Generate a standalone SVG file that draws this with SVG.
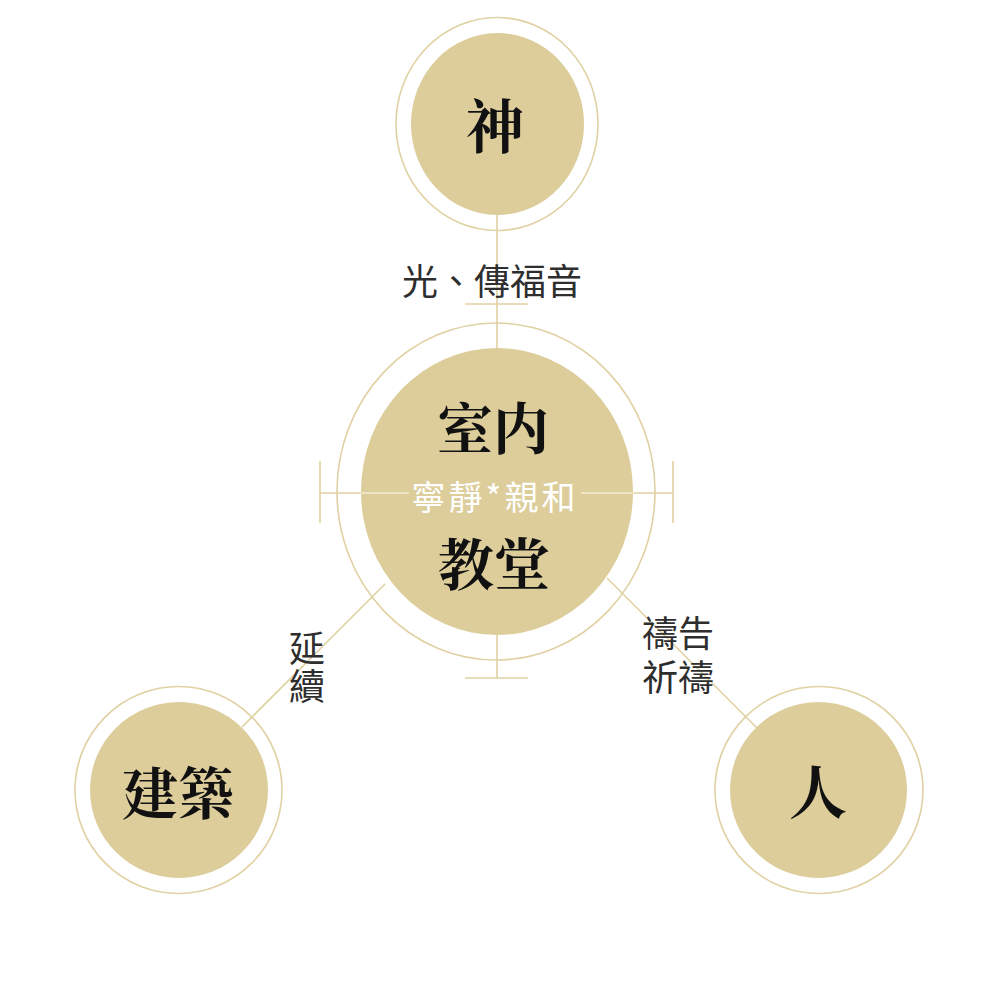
<svg xmlns="http://www.w3.org/2000/svg" width="989" height="989" viewBox="0 0 989 989">
<style>
.fill{fill:#dccd9b}
.ring{fill:none;stroke:#e0d1a3;stroke-width:1.6}
.ln{stroke:#e0d1a3;stroke-width:1.6;fill:none}
.lnw{stroke:#f3ecd5;stroke-width:1.6;fill:none}
.big{font-family:"Noto Serif CJK TC","Noto Sans CJK TC",serif;font-weight:700;fill:#111;text-anchor:middle;dominant-baseline:central}
.lbl{font-family:"Noto Sans CJK TC","Noto Sans CJK SC",sans-serif;font-size:36px;fill:#2e2e2e;dominant-baseline:central}
</style>
<rect width="989" height="989" fill="#fff"/>
<g id="connectors">
<line class="ln" x1="497" y1="215" x2="497" y2="348"/>
<line class="ln" x1="465" y1="304" x2="528" y2="304"/>
<line class="ln" x1="497" y1="635" x2="497" y2="678"/>
<line class="ln" x1="465" y1="678" x2="528" y2="678"/>
<line class="ln" x1="320" y1="493" x2="361" y2="493"/>
<line class="ln" x1="633" y1="493" x2="673" y2="493"/>
<line class="ln" x1="320" y1="461" x2="320" y2="523"/>
<line class="ln" x1="673" y1="461" x2="673" y2="523"/>
<line class="ln" x1="385" y1="584" x2="242" y2="727"/>
<line class="ln" x1="607" y1="578" x2="758" y2="729"/>
</g>
<g id="node-god">
<ellipse class="ring" cx="497" cy="124" rx="101" ry="106.5"/>
<ellipse class="fill" cx="497.5" cy="124" rx="86.5" ry="91"/>
<text class="big" x="495" y="123" font-size="58">神</text>
</g>
<g id="node-center">
<ellipse class="ring" cx="496" cy="491.5" rx="159" ry="168.5"/>
<ellipse class="fill" cx="497" cy="491.5" rx="136" ry="143.5"/>
<line class="lnw" x1="361" y1="493" x2="409" y2="493"/>
<line class="lnw" x1="581" y1="493" x2="633" y2="493"/>
<text class="big" x="493" y="425" font-size="56">室内</text>
<text class="big" x="494" y="561" font-size="56">教堂</text>
<text x="495" y="495" font-family="Noto Sans CJK TC,Noto Sans CJK SC,sans-serif" font-size="34" letter-spacing="3" fill="#fff" text-anchor="middle" dominant-baseline="central">寧靜*親和</text>
</g>
<g id="node-architecture">
<ellipse class="ring" cx="178.5" cy="790" rx="103.5" ry="103.5"/>
<ellipse class="fill" cx="179" cy="790" rx="89" ry="88"/>
<text class="big" x="178" y="790" font-size="56">建築</text>
</g>
<g id="node-people">
<ellipse class="ring" cx="819" cy="790" rx="104" ry="103.5"/>
<ellipse class="fill" cx="818.5" cy="790" rx="88.5" ry="88"/>
<text class="big" x="818" y="789" font-size="58">人</text>
</g>
<g id="labels">
<text class="lbl" x="492" y="279" font-size="37" text-anchor="middle">光、傳福音</text>
<text class="lbl" text-anchor="middle"><tspan x="307" y="646">延</tspan><tspan x="307" y="684">續</tspan></text>
<text class="lbl"><tspan x="642" y="631">禱告</tspan><tspan x="642" y="675">祈禱</tspan></text>
</g>
</svg>
